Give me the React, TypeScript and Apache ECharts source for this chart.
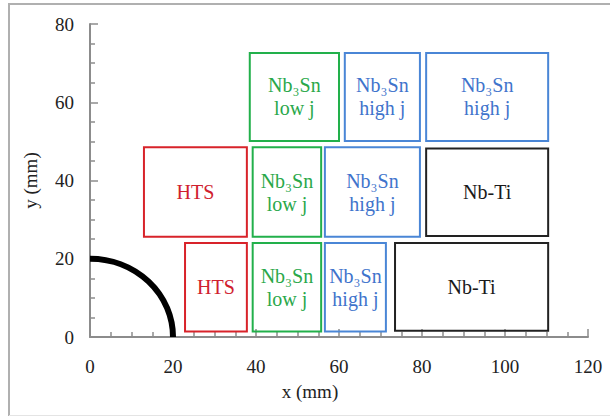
import React, { useEffect, useRef } from "react";
import * as echarts from "echarts";

// Boxes: [x0, y0, x1, y1] in mm
const boxX0 = [38.5, 61.4, 81.0, 13.0, 39.2, 56.6, 81.0, 22.9, 39.2, 56.6, 73.5];
const boxX1 = [60.0, 79.5, 110.4, 37.8, 55.7, 79.5, 110.4, 37.8, 55.7, 71.3, 110.4];
const boxY0 = [50.1, 50.1, 50.1, 25.6, 25.6, 25.6, 25.8, 1.4, 1.4, 1.4, 1.6];
const boxY1 = [72.6, 72.6, 72.6, 48.5, 48.5, 48.5, 48.2, 24.0, 24.0, 24.0, 24.0];
const boxLabels = [
  "Nb₃Sn\nlow j",
  "Nb₃Sn\nhigh j",
  "Nb₃Sn\nhigh j",
  "HTS",
  "Nb₃Sn\nlow j",
  "Nb₃Sn\nhigh j",
  "Nb-Ti",
  "HTS",
  "Nb₃Sn\nlow j",
  "Nb₃Sn\nhigh j",
  "Nb-Ti",
];
const boxKinds = ["green", "blue", "blue", "red", "green", "blue", "black", "red", "green", "blue", "black"];

// Quarter circle: centre (0,0), radius 20 mm
const arcCenter = [0, 0];
const arcRadius = 20;

const xTicks = { min: 0, max: 120, interval: 20 };
const yTicks = { min: 0, max: 80, interval: 20 };

const kindColors: Record<string, string> = {
  green: "#22b04b",
  blue: "#4a86d6",
  red: "#d8232a",
  black: "#222222",
};
const kindText: Record<string, string> = {
  green: "#2aa84a",
  blue: "#3f74cc",
  red: "#d0202e",
  black: "#1a1a1a",
};

const FONT = "'Liberation Serif', 'Times New Roman', 'DejaVu Serif', serif";

export default function App() {
  const ref = useRef<HTMLDivElement>(null);
  useEffect(() => {
    document.body.style.margin = "0";
    if (!ref.current) return;
    const chart = echarts.init(ref.current, undefined, { renderer: "svg" });
    const boxData = boxX0.map((x0, i) => [x0, boxY0[i], boxX1[i], boxY1[i]]);
    const axisCommon = {
      axisLine: { show: true, lineStyle: { color: "#8c8c8c", width: 2 } },
      axisTick: { show: true, inside: true, length: 8, lineStyle: { color: "#8c8c8c", width: 1.5 } },
      minorTick: { show: true, splitNumber: 4, length: 5, lineStyle: { color: "#8c8c8c", width: 1.5 } },
      splitLine: { show: false },
      minorSplitLine: { show: false },
      axisLabel: { color: "#222", fontSize: 19, fontFamily: FONT },
      nameTextStyle: { color: "#222", fontSize: 19, fontFamily: FONT },
    };
    chart.setOption({
      animation: false,
      grid: { left: 90, right: 22, top: 24, bottom: 81 },
      xAxis: {
        type: "value",
        ...xTicks,
        ...axisCommon,
        axisLabel: { ...axisCommon.axisLabel, margin: 20 },
        name: "x (mm)",
        nameLocation: "middle",
        nameGap: 45,
        nameTextStyle: { ...axisCommon.nameTextStyle, padding: [0, 58, 0, 0] },
      },
      yAxis: {
        type: "value",
        ...yTicks,
        ...axisCommon,
        axisLabel: { ...axisCommon.axisLabel, margin: 16 },
        name: "y (mm)",
        nameLocation: "middle",
        nameGap: 50,
      },
      graphic: [
        {
          type: "line",
          shape: { x1: 9, y1: 4, x2: 612, y2: 4 },
          style: { stroke: "#b0b0b0", lineWidth: 2 },
          silent: true,
        },
        {
          type: "line",
          shape: { x1: 9, y1: 3, x2: 9, y2: 416 },
          style: { stroke: "#b0b0b0", lineWidth: 2 },
          silent: true,
        },
        {
          type: "line",
          shape: { x1: 9, y1: 415.5, x2: 612, y2: 415.5 },
          style: { stroke: "#e4e4e4", lineWidth: 1 },
          silent: true,
        },
      ],
      series: [
        {
          type: "custom",
          data: [[arcCenter[0], arcCenter[1], arcRadius]],
          renderItem: (params: any, api: any) => {
            const cx = api.value(0);
            const cy = api.value(1);
            const r = api.value(2);
            const c = api.coord([cx, cy]);
            const p = api.coord([cx + r, cy + r]);
            const rx = p[0] - c[0];
            const ry = c[1] - p[1];
            return {
              type: "path",
              shape: {
                pathData: `M ${c[0]} ${c[1] - ry} A ${rx} ${ry} 0 0 1 ${c[0] + rx} ${c[1]}`,
              },
              style: { fill: "none", stroke: "#000", lineWidth: 6 },
            };
          },
          clip: false,
          z: 3,
        },
        {
          type: "custom",
          data: boxData,
          renderItem: (params: any, api: any) => {
            const i = params.dataIndex;
            const p0 = api.coord([api.value(0), api.value(1)]);
            const p1 = api.coord([api.value(2), api.value(3)]);
            const kind = boxKinds[i];
            return {
              type: "group",
              children: [
                {
                  type: "rect",
                  shape: { x: p0[0], y: p1[1], width: p1[0] - p0[0], height: p0[1] - p1[1] },
                  style: { fill: "none", stroke: kindColors[kind], lineWidth: 2 },
                },
                {
                  type: "text",
                  x: (p0[0] + p1[0]) / 2,
                  y: (p0[1] + p1[1]) / 2,
                  style: {
                    text: boxLabels[i],
                    fill: kindText[kind],
                    fontSize: 20,
                    fontFamily: FONT,
                    align: "center",
                    verticalAlign: "middle",
                    lineHeight: 23,
                  },
                },
              ],
            };
          },
          z: 2,
        },
      ],
    });
    return () => chart.dispose();
  }, []);
  return <div ref={ref} style={{ width: 610, height: 418 }} />;
}
